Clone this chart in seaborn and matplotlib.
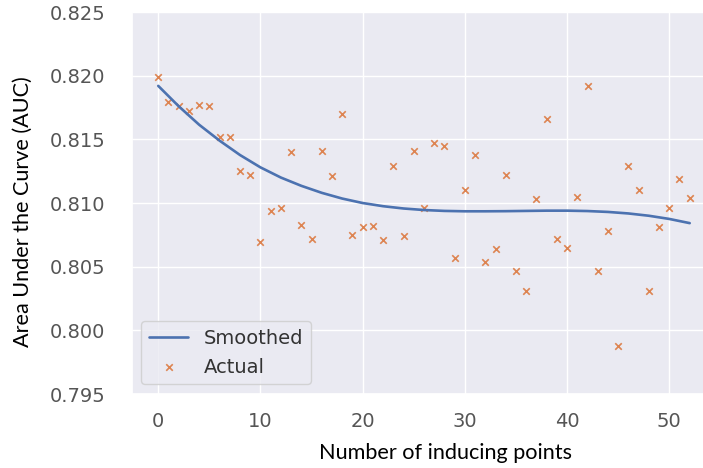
import matplotlib
matplotlib.use("Agg")
import matplotlib.pyplot as plt
import seaborn as sns
import pandas as pd

# Measured AUC for each number of inducing points
inducing_points = list(range(53))
auc_actual = [
    0.8199, 0.8179, 0.8176, 0.8172, 0.8177, 0.8176, 0.8152, 0.8152, 0.8125, 0.8122,
    0.8069, 0.8094, 0.8096, 0.8140, 0.8083, 0.8072, 0.8141, 0.8121, 0.8170, 0.8075,
    0.8081, 0.8082, 0.8071, 0.8129, 0.8074, 0.8141, 0.8096, 0.8147, 0.8145, 0.8057,
    0.8110, 0.8138, 0.8054, 0.8064, 0.8122, 0.8047, 0.8031, 0.8103, 0.8166, 0.8072,
    0.8065, 0.8105, 0.8192, 0.8047, 0.8078, 0.7988, 0.8129, 0.8110, 0.8031, 0.8081,
    0.8096, 0.8119, 0.8104,
]

# Smoothed trend, sampled every second point
smooth_x = list(range(0, 53, 2))
auc_smoothed = [
    0.81920, 0.81760, 0.81615, 0.81490, 0.81377, 0.81280, 0.81200, 0.81135, 0.81080,
    0.81035, 0.81000, 0.80975, 0.80957, 0.80945, 0.80938, 0.80935, 0.80935, 0.80936,
    0.80938, 0.80940, 0.80940, 0.80937, 0.80930, 0.80918, 0.80900, 0.80875, 0.80842,
]

y_ticks = [0.795, 0.800, 0.805, 0.810, 0.815, 0.820, 0.825]
x_ticks = [0, 10, 20, 30, 40, 50]

sns.set_theme(style="darkgrid")

fig = plt.figure(figsize=(7.03, 4.68), dpi=100)
ax = fig.add_axes([0.1873, 0.1581, 0.8316, 0.8162])

smooth_df = pd.DataFrame({"n": smooth_x, "auc": auc_smoothed})
actual_df = pd.DataFrame({"n": inducing_points, "auc": auc_actual})

sns.lineplot(data=smooth_df, x="n", y="auc", ax=ax, color="#4c72b0",
             linewidth=1.9, label="Smoothed")
sns.scatterplot(data=actual_df, x="n", y="auc", ax=ax, color="#dd8452",
                marker="x", s=22, linewidth=1.2, label="Actual")

ax.set_xlim(-2.6, 54.6)
ax.set_ylim(0.795, 0.825)
ax.set_xticks(x_ticks)
ax.set_yticks(y_ticks)
ax.set_yticklabels([f"{v:.3f}" for v in y_ticks])

ax.tick_params(axis="both", labelsize=14, labelcolor="#555555")
ax.tick_params(axis="y", pad=13)
ax.tick_params(axis="x", pad=7)

ax.set_xlabel("")
ax.set_ylabel("")
fig.text(0.634, 0.032, "Number of inducing points", ha="center", va="center",
         fontsize=15.6, color="black", family="Lato")
fig.text(0.033, 0.548, "Area Under the Curve (AUC)", ha="center", va="center",
         rotation=90, fontsize=15.6, color="black", family="Lato")

leg = ax.legend(loc="lower left", fontsize=14, frameon=True,
                bbox_to_anchor=(0.0, 0.0), borderaxespad=0.5)
for t in leg.get_texts():
    t.set_color("#333333")

fig.savefig("out.png", dpi=100)
